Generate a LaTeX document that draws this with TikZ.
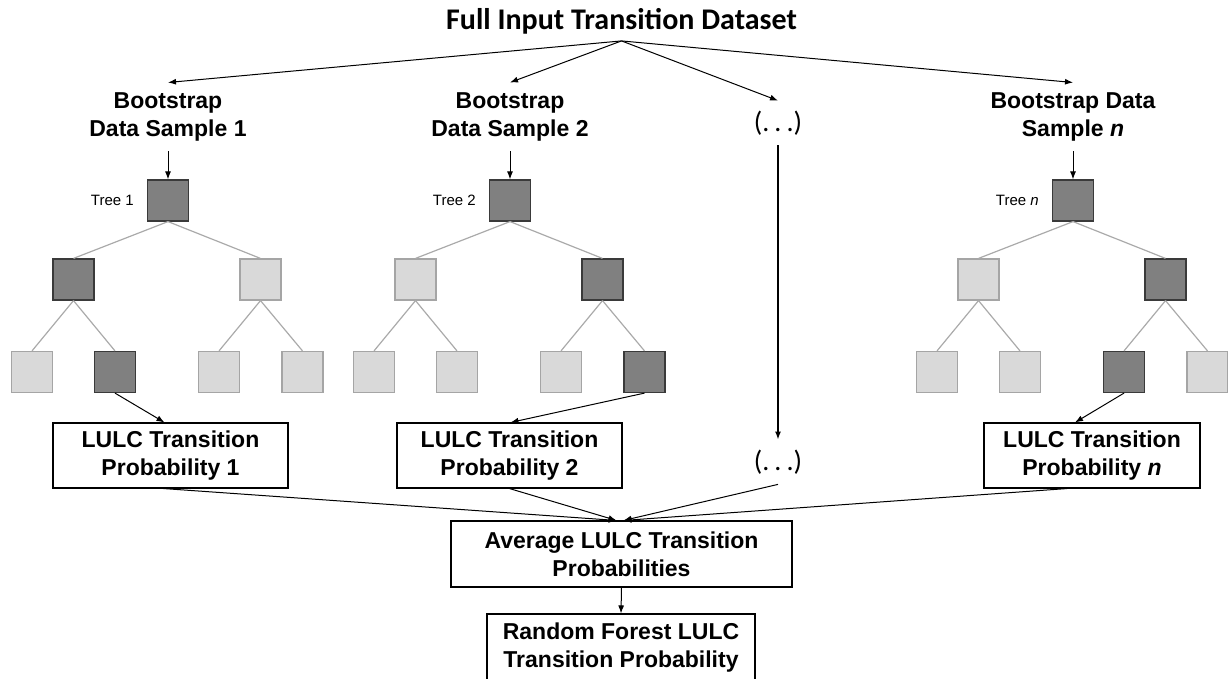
\documentclass[tikz,border=0pt]{standalone}
\usepackage{fontspec}
\setmainfont{Liberation Sans}
\newfontfamily\calfont{Carlito}
\usetikzlibrary{positioning,arrows.meta}
\definecolor{TreeDark}{RGB}{128,128,128}
\definecolor{TreeDarkLine}{RGB}{58,58,58}
\definecolor{TreeLight}{RGB}{217,217,217}
\definecolor{TreeLightLine}{RGB}{165,165,165}
\definecolor{TreeEdge}{RGB}{170,170,170}

\begin{document}
\begin{tikzpicture}[x=1pt,y=-1pt,
  lbl/.style={font=\bfseries\fontsize{23}{28}\selectfont,align=center},
  prob/.style={lbl,draw,line width=1.1pt,minimum width=#1,minimum height=65pt,inner sep=0pt},
  sq/.style={minimum size=41pt,inner sep=0pt,line width=1.2pt},
  dk/.style={sq,fill=TreeDark,draw=TreeDarkLine},
  lt/.style={sq,fill=TreeLight,draw=TreeLightLine},
  edge/.style={TreeEdge,line width=1.2pt},
  arr/.style={-{Latex[length=8pt,width=6pt]},line width=1pt},
  dots/.style={font=\calfont\fontsize{28}{30}\selectfont,inner xsep=2pt,inner ysep=10pt}]
\useasboundingbox (0,0) rectangle (1228,679);

\node[font=\calfont\bfseries\fontsize{30}{34}\selectfont,anchor=base,inner sep=6pt] (title) at (621.5,30) {Full Input Transition Dataset};

\node[lbl,inner xsep=0pt,inner ysep=10pt] (boot-1) at (168,117) {Bootstrap\\Data Sample 1};
\node[lbl,inner xsep=0pt,inner ysep=10pt] (boot-2) at (510,117) {Bootstrap\\Data Sample 2};
\node[lbl,inner xsep=0pt,inner ysep=10pt] (boot-n) at (1073,117) {Bootstrap Data\\Sample \textit{n}};
\node[dots] (dots-a) at (778,123) {(.\hspace{5pt}.\hspace{5pt}.)};
\node[dots] (dots-b) at (778,462) {(.\hspace{5pt}.\hspace{5pt}.)};

% one small decision tree per bootstrap sample
\foreach \t/\cx/\tn/\ma/\mb/\la/\lb/\lc/\ld in
{1/168/1/dk/lt/lt/dk/lt/lt,2/510/2/lt/dk/lt/lt/lt/dk,n/1073/{\textit{n}}/lt/dk/lt/lt/dk/lt} {
   \node[dk] (root-\t) at (\cx,200.5) {};
   \node[\ma] (mid-\t-1) at (\cx-94.5,279.5) {};
   \node[\mb] (mid-\t-2) at (\cx+92.5,279.5) {};
   \node[\la] (leaf-\t-1) at (\cx-136,372) {};
   \node[\lb] (leaf-\t-2) at (\cx-53,372) {};
   \node[\lc] (leaf-\t-3) at (\cx+51,372) {};
   \node[\ld] (leaf-\t-4) at (\cx+134.5,372) {};
   \node[left=13pt of root-\t,font=\fontsize{15}{18}\selectfont,inner sep=0pt] (name-\t) {Tree \tn};
   \draw[edge] (root-\t.south) -- (mid-\t-1.north);
   \draw[edge] (root-\t.south) -- (mid-\t-2.north);
   \draw[edge] (mid-\t-1.south) -- (leaf-\t-1.north);
   \draw[edge] (mid-\t-1.south) -- (leaf-\t-2.north);
   \draw[edge] (mid-\t-2.south) -- (leaf-\t-3.north);
   \draw[edge] (mid-\t-2.south) -- (leaf-\t-4.north);
   \draw[arr] (title.south) -- (boot-\t.north);
   \draw[arr] (boot-\t.south) -- (root-\t.north);
}
\draw[arr] (title.south) -- (dots-a.north);
\draw[arr,line width=2pt] (dots-a.south) -- (dots-b.north);

\node[prob=235pt] (box-1) at (170.5,455.5) {LULC Transition\\Probability 1};
\node[prob=225pt] (box-2) at (509.5,455.5) {LULC Transition\\Probability 2};
\node[prob=216pt] (box-n) at (1092,455.5) {LULC Transition\\Probability \textit{n}};
\node[prob=341pt,minimum height=66pt] (avg) at (621.5,554) {Average LULC Transition\\Probabilities};
\node[prob=268pt,minimum height=67pt] (rf) at (621,647.5) {Random Forest LULC\\Transition Probability};

\draw[arr] (leaf-1-2.south) -- ([xshift=-6pt]box-1.north);
\draw[arr] (leaf-2-4.south) -- ([xshift=1pt]box-2.north);
\draw[arr] (leaf-n-3.south) -- ([xshift=-17pt]box-n.north);

\draw[arr] ([xshift=-7pt]box-1.south) -- ([xshift=-5pt]avg.north);
\draw[arr] (box-2.south) -- ([xshift=-5pt]avg.north);
\draw[arr] (dots-b.south) -- ([xshift=2pt]avg.north);
\draw[arr] ([xshift=-25pt]box-n.south) -- ([xshift=2pt]avg.north);
\draw[arr] (avg.south) -- (rf.north);
\end{tikzpicture}
\end{document}
